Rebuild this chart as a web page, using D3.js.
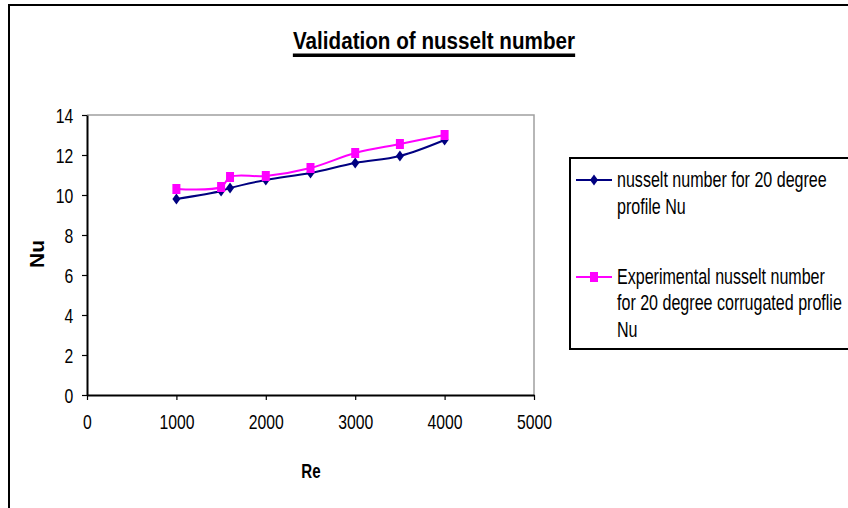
<!DOCTYPE html>
<html>
<head>
<meta charset="utf-8">
<script src="https://cdn.jsdelivr.net/npm/d3@7"></script>
<style>
  body { margin: 0; background: #fff; }
  text { font-family: "Liberation Sans", Arial, sans-serif; fill: #000; }
</style>
</head>
<body>
<div id="chart"></div>
<script>
// data
const reynolds = [1000, 1500, 1600, 2000, 2500, 3000, 3500, 4000];
const nuProfile = [9.8, 10.2, 10.35, 10.75, 11.1, 11.6, 11.95, 12.75];
const nuExperimental = [10.3, 10.4, 10.9, 10.95, 11.35, 12.1, 12.55, 13.0];
const xTicks = [0, 1000, 2000, 3000, 4000, 5000];
const yTicks = [0, 2, 4, 6, 8, 10, 12, 14];
const seriesNames = [
  ["nusselt number for 20 degree", "profile Nu"],
  ["Experimental nusselt number", "for 20 degree corrugated proflie", "Nu"]
];

const W = 848, H = 508;
const PLOT = { left: 87, right: 534, top: 115, bottom: 395 };

// the original chart is squeezed sideways, so text gets a horizontal scale
const narrow = (sel, x, y, sx) =>
  sel.attr("x", 0).attr("y", 0).attr("transform", `translate(${x},${y}) scale(${sx},1)`);

const svg = d3.select("#chart").append("svg")
  .attr("width", W)
  .attr("height", H);

// outer chart frame (runs off the right and bottom edges)
svg.append("rect")
  .attr("x", 9).attr("y", 5)
  .attr("width", W + 20).attr("height", H + 20)
  .style("fill", "#fff")
  .style("stroke", "#000")
  .style("stroke-width", 2);

const x = d3.scaleLinear().domain([0, 5000]).range([PLOT.left, PLOT.right]);
const y = d3.scaleLinear().domain([0, 14]).range([PLOT.bottom, PLOT.top]);

// TITLE
const title = svg.append("text")
  .attr("text-anchor", "middle")
  .style("font-size", "24px")
  .style("font-weight", "bold")
  .text("Validation of nusselt number");
narrow(title, 434, 49, 0.86);
const tw = title.node().getBBox().width * 0.86;
svg.append("rect")
  .attr("x", 434 - tw / 2).attr("y", 53.5)
  .attr("width", tw).attr("height", 3.5)
  .style("fill", "#000");

// PLOT AREA BORDER (grey top/right)
svg.append("path")
  .attr("d", `M${PLOT.left},${PLOT.top}H${PLOT.right}V${PLOT.bottom}`)
  .style("fill", "none")
  .style("stroke", "#a0a0a0")
  .style("stroke-width", 1.5);

// AXES
const xAxis = svg.append("g")
  .attr("transform", `translate(0,${PLOT.bottom})`)
  .call(d3.axisBottom(x).tickValues(xTicks).tickFormat(d3.format("d")).tickSize(5).tickSizeOuter(0));
const yAxis = svg.append("g")
  .attr("transform", `translate(${PLOT.left},0)`)
  .call(d3.axisLeft(y).tickValues(yTicks).tickFormat(d3.format("d")).tickSize(5).tickSizeOuter(0));

[xAxis, yAxis].forEach(ax => {
  ax.select(".domain").style("stroke", "#000").style("stroke-width", 2);
  ax.selectAll(".tick line").style("stroke", "#000").style("stroke-width", 1.2);
  ax.selectAll(".tick text")
    .style("font-size", "21px")
    .style("font-family", "\"Liberation Sans\", Arial, sans-serif")
    .style("fill", "#000")
    .attr("dy", null);
});
narrow(xAxis.selectAll(".tick text"), 0, 33.5, 0.75);
narrow(yAxis.selectAll(".tick text"), -13.7, 7.5, 0.75);

// AXIS TITLES
const reLabel = svg.append("text")
  .attr("text-anchor", "middle")
  .style("font-size", "21px")
  .style("font-weight", "bold")
  .text("Re");
narrow(reLabel, 311, 478, 0.72);
svg.append("text")
  .attr("transform", `translate(44,254) rotate(-90)`)
  .attr("text-anchor", "middle")
  .style("font-size", "21px")
  .style("font-weight", "bold")
  .text("Nu");

// SERIES
const line = d3.line()
  .x(d => x(d[0]))
  .y(d => y(d[1]))
  .curve(d3.curveCatmullRom.alpha(0.5));

const diamond = "M0,-5.5L4,0L0,5.5L-4,0Z";
const square = "M-4,-5H4V5H-4Z";

const series = [
  { values: nuProfile, color: "#000080", symbol: diamond },
  { values: nuExperimental, color: "#ff00ff", symbol: square }
];

series.forEach(s => {
  const pts = reynolds.map((r, i) => [r, s.values[i]]);
  svg.append("path")
    .datum(pts)
    .attr("d", line)
    .style("fill", "none")
    .style("stroke", s.color)
    .style("stroke-width", 2);
  svg.selectAll(null)
    .data(pts)
    .enter().append("path")
    .attr("d", s.symbol)
    .attr("transform", d => `translate(${x(d[0])},${y(d[1])})`)
    .style("fill", s.color);
});

// LEGEND
svg.append("rect")
  .attr("x", 570).attr("y", 158)
  .attr("width", 320).attr("height", 191)
  .style("fill", "#fff")
  .style("stroke", "#000")
  .style("stroke-width", 2);

const legendRows = [180, 277];
const legendBase = [187, 283.5];
series.forEach((s, i) => {
  const ly = legendRows[i];
  svg.append("line")
    .attr("x1", 576).attr("x2", 612)
    .attr("y1", ly).attr("y2", ly)
    .style("stroke", s.color)
    .style("stroke-width", 2);
  svg.append("path")
    .attr("d", s.symbol)
    .attr("transform", `translate(594,${ly})`)
    .style("fill", s.color);
  seriesNames[i].forEach((t, j) => {
    const lt = svg.append("text")
      .style("font-size", "22px")
      .text(t);
    narrow(lt, 617, legendBase[i] + j * 26.7, 0.73);
  });
});
</script>
</body>
</html>
